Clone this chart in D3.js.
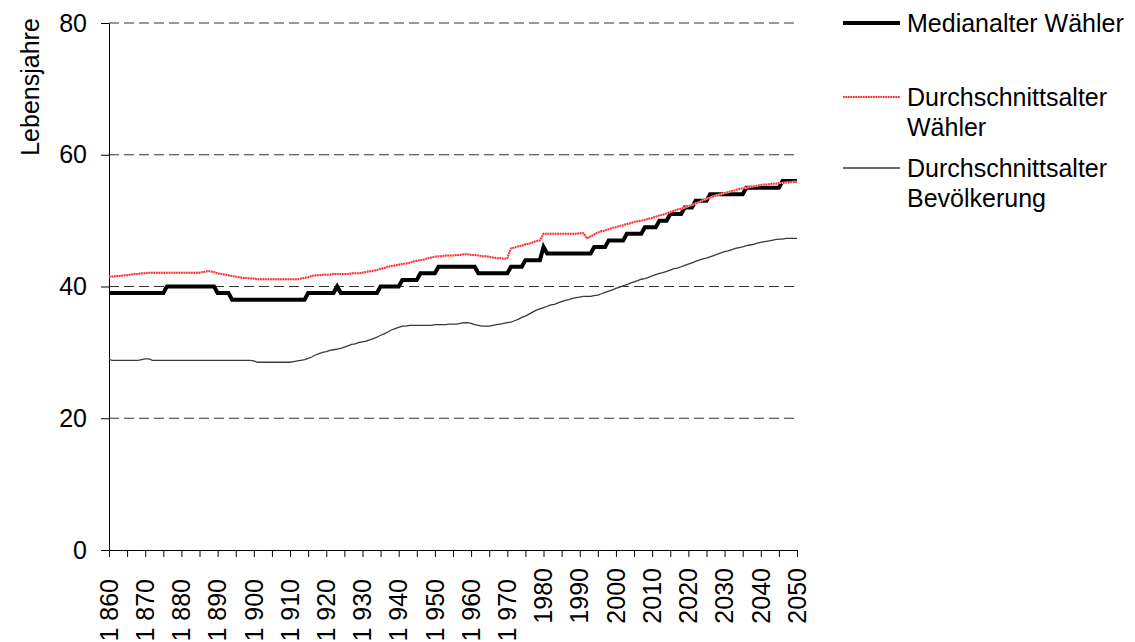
<!DOCTYPE html>
<html>
<head>
<meta charset="utf-8">
<script src="https://cdn.jsdelivr.net/npm/d3@7"></script>
<style>
  body { margin: 0; background: #fff; }
  text { font-family: "Liberation Sans", Arial, sans-serif; fill: #000; }
</style>
</head>
<body>
<div id="chart"></div>
<script>
// voter age chart: median / mean age of voters vs. mean age of population, 1860-2050

// ----- data (one value per year, starting 1860) -----
const firstYear = 1860;
const lastYear = 2050;

const medianVoters = [
  39, 39, 39, 39, 39, 39, 39, 39, 39, 39,
  39, 39, 39, 39, 39, 39, 40, 40, 40, 40,
  40, 40, 40, 40, 40, 40, 40, 40, 40, 40,
  39, 39, 39, 39, 38, 38, 38, 38, 38, 38,
  38, 38, 38, 38, 38, 38, 38, 38, 38, 38,
  38, 38, 38, 38, 38, 39, 39, 39, 39, 39,
  39, 39, 39, 40, 39, 39, 39, 39, 39, 39,
  39, 39, 39, 39, 39, 40, 40, 40, 40, 40,
  40, 41, 41, 41, 41, 41, 42, 42, 42, 42,
  42, 43, 43, 43, 43, 43, 43, 43, 43, 43,
  43, 43, 42, 42, 42, 42, 42, 42, 42, 42,
  42, 43, 43, 43, 43, 44, 44, 44, 44, 44,
  46, 45, 45, 45, 45, 45, 45, 45, 45, 45,
  45, 45, 45, 45, 46, 46, 46, 46, 47, 47,
  47, 47, 47, 48, 48, 48, 48, 48, 49, 49,
  49, 49, 50, 50, 50, 51, 51, 51, 51, 52,
  52, 52, 53, 53, 53, 53, 54, 54, 54, 54,
  54, 54, 54, 54, 54, 54, 55, 55, 55, 55,
  55, 55, 55, 55, 55, 55, 56, 56, 56, 56,
  56
];

const meanVoters = [
  41.5, 41.5, 41.6, 41.6, 41.7, 41.7, 41.8, 41.9, 41.9, 42.0,
  42.0, 42.1, 42.1, 42.1, 42.1, 42.1, 42.1, 42.1, 42.1, 42.1,
  42.1, 42.1, 42.1, 42.1, 42.1, 42.1, 42.2, 42.3, 42.3, 42.2,
  42.0, 41.9, 41.8, 41.7, 41.6, 41.5, 41.4, 41.3, 41.3, 41.2,
  41.2, 41.1, 41.1, 41.1, 41.1, 41.1, 41.1, 41.1, 41.1, 41.1,
  41.1, 41.1, 41.1, 41.2, 41.3, 41.4, 41.6, 41.7, 41.7, 41.8,
  41.8, 41.8, 41.9, 41.9, 41.9, 41.9, 41.9, 42.0, 42.0, 42.0,
  42.1, 42.2, 42.3, 42.4, 42.5, 42.7, 42.8, 43.0, 43.1, 43.2,
  43.3, 43.4, 43.5, 43.6, 43.8, 43.9, 44.0, 44.1, 44.3, 44.4,
  44.5, 44.6, 44.6, 44.7, 44.7, 44.7, 44.8, 44.8, 44.9, 44.9,
  44.8, 44.8, 44.7, 44.6, 44.6, 44.5, 44.4, 44.3, 44.3, 44.2,
  44.3, 45.8, 45.9, 46.1, 46.2, 46.4, 46.5, 46.7, 46.9, 47.0,
  48.0, 48.0, 48.0, 48.0, 48.0, 48.0, 48.0, 48.0, 48.0, 48.0,
  48.1, 48.1, 47.3, 47.6, 47.9, 48.2, 48.4, 48.5, 48.7, 48.9,
  49.0, 49.2, 49.3, 49.5, 49.6, 49.8, 49.9, 50.0, 50.1, 50.3,
  50.4, 50.6, 50.8, 50.9, 51.1, 51.3, 51.5, 51.7, 51.8, 52.0,
  52.2, 52.4, 52.6, 52.8, 53.1, 53.3, 53.5, 53.7, 53.9, 54.0,
  54.2, 54.3, 54.5, 54.6, 54.8, 54.9, 55.0, 55.1, 55.2, 55.3,
  55.4, 55.5, 55.5, 55.6, 55.6, 55.7, 55.7, 55.8, 55.8, 55.9,
  55.9
];

const meanPopulation = [
  28.9, 28.8, 28.8, 28.8, 28.8, 28.8, 28.8, 28.8, 28.8, 28.9,
  29.0, 29.0, 28.8, 28.8, 28.8, 28.8, 28.8, 28.8, 28.8, 28.8,
  28.8, 28.8, 28.8, 28.8, 28.8, 28.8, 28.8, 28.8, 28.8, 28.8,
  28.8, 28.8, 28.8, 28.8, 28.8, 28.8, 28.8, 28.8, 28.8, 28.8,
  28.7, 28.5, 28.5, 28.5, 28.5, 28.5, 28.5, 28.5, 28.5, 28.5,
  28.5, 28.6, 28.7, 28.8, 28.9, 29.1, 29.3, 29.6, 29.8, 30.0,
  30.1, 30.3, 30.4, 30.5, 30.6, 30.8, 31.0, 31.2, 31.3, 31.5,
  31.6, 31.7, 31.9, 32.1, 32.3, 32.6, 32.8, 33.1, 33.4, 33.6,
  33.8, 34.0, 34.0, 34.1, 34.1, 34.1, 34.1, 34.1, 34.1, 34.1,
  34.2, 34.2, 34.2, 34.2, 34.3, 34.3, 34.3, 34.4, 34.5, 34.5,
  34.4, 34.2, 34.1, 34.0, 34.0, 34.0, 34.1, 34.2, 34.3, 34.4,
  34.5, 34.6, 34.8, 35.0, 35.3, 35.5, 35.8, 36.1, 36.4, 36.6,
  36.8, 37.0, 37.2, 37.3, 37.5, 37.7, 37.9, 38.0, 38.2, 38.3,
  38.4, 38.5, 38.5, 38.5, 38.6, 38.7, 38.9, 39.1, 39.3, 39.5,
  39.7, 39.9, 40.1, 40.3, 40.5, 40.7, 40.9, 41.1, 41.2, 41.4,
  41.6, 41.8, 42.0, 42.1, 42.3, 42.5, 42.7, 42.8, 43.0, 43.2,
  43.4, 43.6, 43.8, 44.0, 44.2, 44.3, 44.5, 44.7, 44.9, 45.1,
  45.3, 45.4, 45.6, 45.8, 45.9, 46.0, 46.2, 46.3, 46.4, 46.6,
  46.7, 46.8, 46.9, 47.0, 47.1, 47.2, 47.2, 47.3, 47.3, 47.3,
  47.3
];

// axis ticks and labels
const yTicks = [0, 20, 40, 60, 80];
const xLabelYears = [1860, 1870, 1880, 1890, 1900, 1910, 1920, 1930, 1940, 1950,
  1960, 1970, 1980, 1990, 2000, 2010, 2020, 2030, 2040, 2050];
const xLabels = ["1 860", "1 870", "1 880", "1 890", "1 900", "1 910", "1 920", "1 930",
  "1 940", "1 950", "1 960", "1 970", "1980", "1990", "2000", "2010", "2020", "2030",
  "2040", "2050"];
const yTitle = "Lebensjahre";
const legendLabels = [["Medianalter Wähler"], ["Durchschnittsalter", "Wähler"],
  ["Durchschnittsalter", "Bevölkerung"]];

// ----- layout -----
const width = 1135, height = 642;
const fontSize = 25;

const svg = d3.select("#chart").append("svg")
  .attr("width", width)
  .attr("height", height);

const x = d3.scaleLinear().domain([firstYear, lastYear]).range([109, 797]);
const y = d3.scaleLinear().domain([0, 80]).range([550, 23]);

const years = d3.range(firstYear, lastYear + 1);

// ----- dashed grid -----
svg.append("g")
  .selectAll("line")
  .data(yTicks.filter(d => d > 0))
  .enter()
  .append("line")
  .attr("x1", x(firstYear))
  .attr("x2", x(lastYear))
  .attr("y1", d => y(d))
  .attr("y2", d => y(d))
  .attr("stroke", "#333")
  .attr("stroke-width", 1)
  .attr("stroke-dasharray", "10,5");

// ----- y axis -----
const yAxis = svg.append("g")
  .attr("transform", "translate(" + x(firstYear) + ",0)")
  .call(d3.axisLeft(y).tickValues(yTicks).tickSize(8).tickSizeOuter(0).tickPadding(14));
yAxis.selectAll("text")
  .style("font-size", fontSize + "px")
  .style("font-family", "'Liberation Sans', Arial, sans-serif")
  .attr("fill", "#000");
yAxis.selectAll("line, path").attr("stroke", "#000");

// y title
svg.append("text")
  .attr("transform", "translate(30," + 87 + ") rotate(-90)")
  .attr("dy", "0.35em")
  .attr("text-anchor", "middle")
  .style("font-size", fontSize + "px")
  .text(yTitle);

// ----- x axis -----
const xAxis = svg.append("g")
  .attr("transform", "translate(0," + y(0) + ")")
  .call(d3.axisBottom(x).tickValues(d3.range(firstYear, lastYear + 1, 5))
    .tickSize(7).tickSizeOuter(0).tickFormat(""));
xAxis.selectAll("line, path").attr("stroke", "#000");

// rotated year labels (older ones carry a thousands gap and sit lower)
svg.append("g")
  .selectAll("text")
  .data(xLabelYears)
  .enter()
  .append("text")
  .attr("transform", (d, i) => "translate(" + x(d) + "," + (xLabels[i].indexOf(" ") > 0 ? 579 : 568) + ") rotate(-90)")
  .attr("dy", "0.35em")
  .attr("text-anchor", "end")
  .style("font-size", fontSize + "px")
  .text((d, i) => xLabels[i]);

// ----- lines -----
const line = d3.line()
  .x((d, i) => x(years[i]))
  .y(d => y(d));

svg.append("path")
  .datum(meanPopulation)
  .attr("d", line)
  .attr("fill", "none")
  .attr("stroke", "#3a3a3a")
  .attr("stroke-width", 1.3);

svg.append("path")
  .datum(medianVoters)
  .attr("d", line)
  .attr("fill", "none")
  .attr("stroke", "#000")
  .attr("stroke-width", 4);

// red line: pale base with dotted red on top
svg.append("path")
  .datum(meanVoters)
  .attr("d", line)
  .attr("fill", "none")
  .attr("stroke", "#ffb3b3")
  .attr("stroke-width", 2);
svg.append("path")
  .datum(meanVoters)
  .attr("d", line)
  .attr("fill", "none")
  .attr("stroke", "#ff2a2a")
  .attr("stroke-width", 2)
  .attr("stroke-dasharray", "1.5,1");

// ----- legend -----
const legendStyles = [
  { color: "#000", width: 4, dash: null, y: 23 },
  { color: "#ff2a2a", width: 2, dash: "1.5,1", y: 97 },
  { color: "#3a3a3a", width: 1.3, dash: null, y: 168 }
];

const legend = svg.append("g");
legendLabels.forEach((lines, i) => {
  const s = legendStyles[i];
  if (i === 1) {
    legend.append("line")
      .attr("x1", 843).attr("x2", 900)
      .attr("y1", s.y).attr("y2", s.y)
      .attr("stroke", "#ffb3b3")
      .attr("stroke-width", 2);
  }
  legend.append("line")
    .attr("x1", 843).attr("x2", 900)
    .attr("y1", s.y).attr("y2", s.y)
    .attr("stroke", s.color)
    .attr("stroke-width", s.width)
    .attr("stroke-dasharray", s.dash);
  const t = legend.append("text")
    .attr("x", 907)
    .attr("y", s.y)
    .style("font-size", fontSize + "px");
  lines.forEach((l, j) => {
    t.append("tspan")
      .attr("x", 907)
      .attr("dy", j === 0 ? "0.35em" : "1.2em")
      .text(l);
  });
});
</script>
</body>
</html>
